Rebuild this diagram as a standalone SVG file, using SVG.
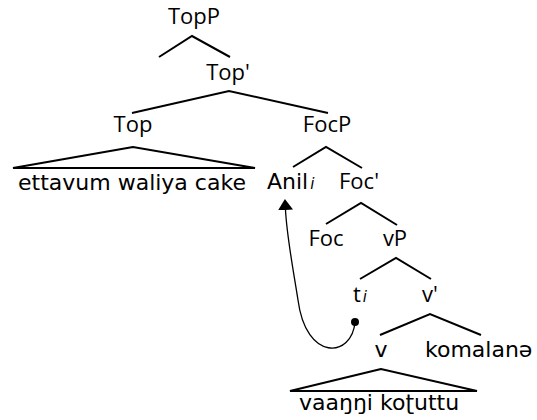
<svg xmlns="http://www.w3.org/2000/svg" width="537" height="420" viewBox="0 0 537 420">
<style>
.lab{font-family:"Open Sans","Noto Sans","Liberation Sans",sans-serif;font-size:22px;fill:#000;text-anchor:middle}
.term{font-family:"DejaVu Sans","Liberation Sans",sans-serif;font-size:22px;fill:#000}
.sub{font-family:"DejaVu Sans","Liberation Sans",sans-serif;font-size:15px;font-style:italic}
.br{fill:none;stroke:#000;stroke-width:2;stroke-linejoin:miter}
.mv{fill:none;stroke:#000;stroke-width:1.3}
</style>
<defs>
<marker id="ah" viewBox="0 0 11 15" refX="0" refY="7.5" markerWidth="11" markerHeight="15" markerUnits="userSpaceOnUse" orient="auto">
<path d="M0,0 L11,7.5 L0,15 z" fill="#000"/>
</marker>
</defs>
<g id="connectors">
<polyline class="br" points="159,57 192,36 230,57"/>
<polyline class="br" points="132,113 229,91 328,113"/>
<polygon class="br" points="133,147 13,168 255,168"/>
<polyline class="br" points="293,167 326,147 362,168"/>
<polyline class="br" points="326,224 361,203 397,225"/>
<polyline class="br" points="360,279 396,258 431,279"/>
<polyline class="br" points="380,335 430,314 481,335"/>
<polygon class="br" points="381,369 290,391 477,391"/>
<path class="mv" d="M355,322 C352,358 306,362 298,300 C293,268 287,238 285.5,210" marker-end="url(#ah)"/>
<circle cx="355" cy="322" r="4" fill="#000"/>
</g>
<g id="n-TopP"><text class="lab" x="194" y="24">TopP</text></g>
<g id="n-Top1"><text class="lab" x="228" y="80">Top'</text></g>
<g id="n-Top"><text class="lab" x="133" y="132">Top</text></g>
<g id="n-FocP"><text class="lab" x="327" y="132">FocP</text></g>
<g id="n-ettavum"><text class="term" x="18" y="190">ettavum waliya cake</text></g>
<g id="n-Anil"><text class="term" x="267" y="189">Anil<tspan class="sub" dx="2">i</tspan></text></g>
<g id="n-Foc1"><text class="lab" x="359" y="189">Foc'</text></g>
<g id="n-Foc"><text class="lab" x="326" y="246">Foc</text></g>
<g id="n-vP"><text class="lab" x="395" y="246">vP</text></g>
<g id="n-ti"><text class="lab" x="353" y="302" style="text-anchor:start">t<tspan class="sub" dx="2">i</tspan></text></g>
<g id="n-v1"><text class="lab" x="430" y="302">v'</text></g>
<g id="n-v"><text class="term" x="381" y="357" style="text-anchor:middle">v</text></g>
<g id="n-komalane"><text class="term" x="425" y="357">komalanə</text></g>
<g id="n-vaanni"><text class="term" x="299" y="410">vaaŋŋi koʈuttu</text></g>
</svg>
